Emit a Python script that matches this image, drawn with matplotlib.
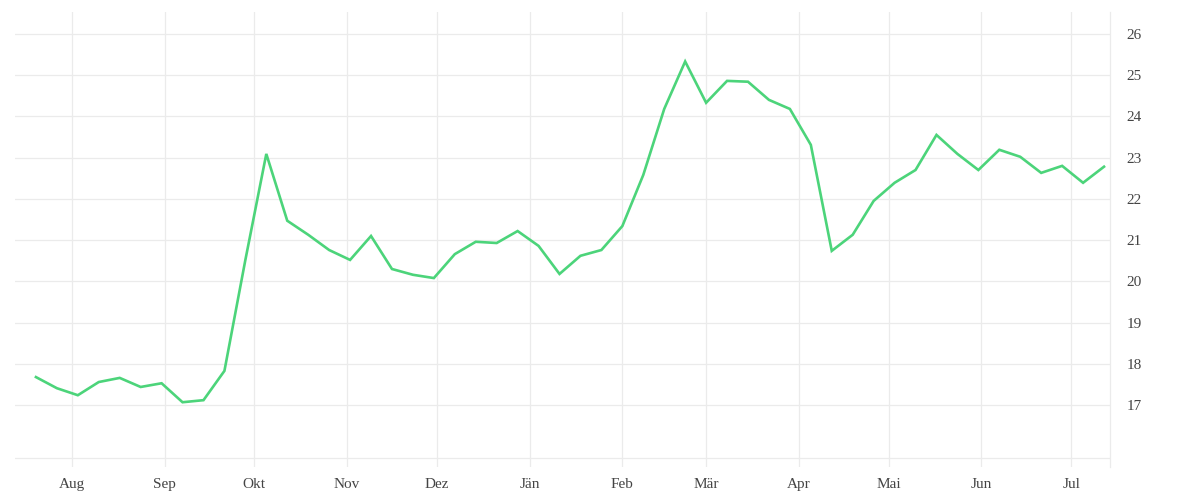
import matplotlib.pyplot as plt
import pandas as pd

# weekly values
start = "2020-07-20"
values = [17.68, 17.41, 17.24, 17.56, 17.66, 17.44, 17.53, 17.07, 17.12, 17.83,
          20.52, 23.09, 21.47, 21.13, 20.76, 20.52, 21.10, 20.30, 20.16, 20.08,
          20.66, 20.96, 20.93, 21.22, 20.86, 20.18, 20.62, 20.76, 21.34, 22.58,
          24.18, 25.33, 24.33, 24.86, 24.84, 24.40, 24.18, 23.31, 20.74, 21.13,
          21.95, 22.39, 22.70, 23.55, 23.09, 22.70, 23.19, 23.02, 22.63, 22.80,
          22.39, 22.78]
month_labels = ["Aug", "Sep", "Okt", "Nov", "Dez", "Jän", "Feb", "Mär",
                "Apr", "Mai", "Jun", "Jul"]
y_ticks = [17, 18, 19, 20, 21, 22, 23, 24, 25, 26]

dates = pd.date_range(start, periods=len(values), freq="7D")
month_ticks = pd.date_range("2020-08-01", periods=len(month_labels), freq="MS")

grid = "#ebebeb"
txt = "#444444"
font = ["Liberation Serif", "DejaVu Serif"]

fig = plt.figure(figsize=(12, 5), dpi=100)
ax = fig.add_axes([0.0125, 0.066, 0.9125, 0.910])

ax.plot(dates, values, color="#4cd47a", linewidth=1.9, solid_joinstyle="miter", zorder=3)

ax.set_xlim(pd.Timestamp("2020-07-13"), pd.Timestamp("2021-07-14"))
ax.set_ylim(15.5, 26.53)

ax.set_xticks(month_ticks)
ax.set_xticklabels(month_labels, fontsize=11, color=txt, family=font)
ax.set_yticks(y_ticks)
ax.set_yticklabels([str(v) for v in y_ticks], fontsize=11, color=txt, family=font)
ax.yaxis.tick_right()
ax.tick_params(axis="y", length=0, pad=12)
ax.tick_params(axis="x", length=0, pad=8)

ax.grid(True, color=grid, linewidth=0.9)
ax.axhline(15.72, color=grid, linewidth=0.9, zorder=1)

for side in ["top", "left", "bottom"]:
    ax.spines[side].set_visible(False)
ax.spines["right"].set_color(grid)
ax.spines["right"].set_linewidth(0.9)

fig.savefig("out.png", dpi=100)
